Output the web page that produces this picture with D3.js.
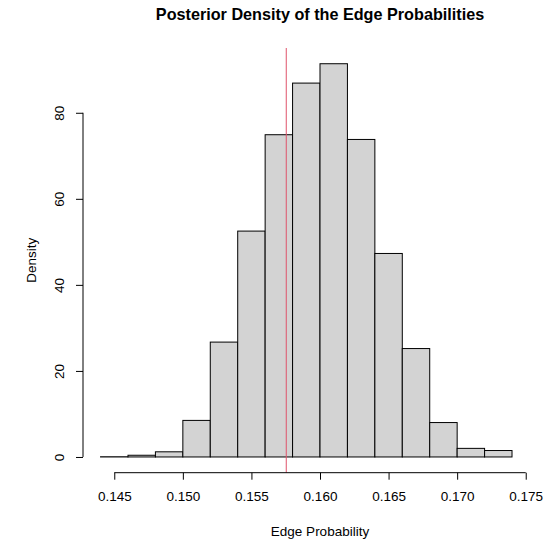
<!DOCTYPE html>
<html>
<head>
<meta charset="utf-8">
<script src="https://cdn.jsdelivr.net/npm/d3@7"></script>
<style>
  body { margin: 0; background: #fff; }
  svg { display: block; }
  text { font-family: "Liberation Sans", Arial, Helvetica, sans-serif; }
</style>
</head>
<body>
<div id="chart"></div>
<script>
// histogram bin edges (width 0.002)
const breaks = [0.144, 0.146, 0.148, 0.150, 0.152, 0.154, 0.156, 0.158, 0.160,
                0.162, 0.164, 0.166, 0.168, 0.170, 0.172, 0.174, 0.176];
// density of each bin
const density = [0.05, 0.4, 1.2, 8.5, 26.7, 52.5, 74.9, 86.9, 91.4,
                 73.8, 47.3, 25.2, 8.0, 2.0, 1.5, 0];
const xTicks = [0.145, 0.150, 0.155, 0.160, 0.165, 0.170, 0.175];
const yTicks = [0, 20, 40, 60, 80];
const markerValue = 0.15754;

const W = 546, H = 540;
const plot = { left: 83, right: 557, top: 48, bottom: 472.7 };

let svg = d3.select('#chart').append('svg')
  .attr('width', W)
  .attr('height', H);

// R-style 4% padding on both axes
let xr = d3.extent(breaks);
let xpad = (xr[1] - xr[0]) * 0.04;
let x = d3.scaleLinear()
  .domain([xr[0] - xpad, xr[1] + xpad])
  .range([plot.left, plot.right]);

let ymax = d3.max(density);
let y = d3.scaleLinear()
  .domain([-ymax * 0.04, ymax * 1.04])
  .range([plot.bottom, plot.top]);

let bins = density.map((d, i) => ({ x0: breaks[i], x1: breaks[i + 1], d: d }));

svg.append('g')
  .selectAll('rect')
  .data(bins)
  .enter().append('rect')
  .attr('x', d => x(d.x0))
  .attr('y', d => y(d.d))
  .attr('width', d => x(d.x1) - x(d.x0))
  .attr('height', d => y(0) - y(d.d))
  .attr('fill', '#d3d3d3')
  .attr('stroke', '#000')
  .attr('stroke-width', 1);

// vertical marker across the plot region
svg.append('line')
  .attr('x1', x(markerValue))
  .attr('x2', x(markerValue))
  .attr('y1', plot.top)
  .attr('y2', plot.bottom)
  .attr('stroke', '#df536b')
  .attr('stroke-width', 1);

// x axis
let gx = svg.append('g')
  .attr('transform', `translate(0, ${plot.bottom})`)
  .call(d3.axisBottom(x).tickValues(xTicks).tickFormat(d3.format('.3f'))
    .tickSize(7).tickPadding(12));
gx.select('.domain').remove();
gx.append('line')
  .attr('x1', x(xTicks[0]))
  .attr('x2', x(xTicks[xTicks.length - 1]))
  .attr('stroke', '#000');
gx.selectAll('text')
  .attr('font-size', '13.5px')
  .attr('font-family', null)
  .attr('fill', '#000');
gx.selectAll('.tick line').attr('stroke', '#000');

// y axis
let gy = svg.append('g')
  .attr('transform', `translate(${plot.left}, 0)`)
  .call(d3.axisLeft(y).tickValues(yTicks).tickSize(7).tickPadding(0));
gy.select('.domain').remove();
gy.append('line')
  .attr('y1', y(yTicks[0]))
  .attr('y2', y(yTicks[yTicks.length - 1]))
  .attr('stroke', '#000');
gy.selectAll('.tick line').attr('stroke', '#000');
gy.selectAll('.tick text')
  .attr('x', null)
  .attr('dy', null)
  .attr('font-size', '13.5px')
  .attr('font-family', null)
  .attr('fill', '#000')
  .attr('text-anchor', 'middle')
  .attr('transform', 'translate(-19.5, 0) rotate(-90)');

let cx = (plot.left + plot.right) / 2;

svg.append('text')
  .attr('x', cx)
  .attr('y', 20)
  .attr('text-anchor', 'middle')
  .attr('font-size', '16.2px')
  .attr('font-weight', 'bold')
  .text('Posterior Density of the Edge Probabilities');

svg.append('text')
  .attr('x', cx)
  .attr('y', 536)
  .attr('text-anchor', 'middle')
  .attr('font-size', '13.5px')
  .text('Edge Probability');

svg.append('text')
  .attr('transform', `translate(36, ${(plot.top + plot.bottom) / 2}) rotate(-90)`)
  .attr('text-anchor', 'middle')
  .attr('font-size', '13.5px')
  .text('Density');
</script>
</body>
</html>
